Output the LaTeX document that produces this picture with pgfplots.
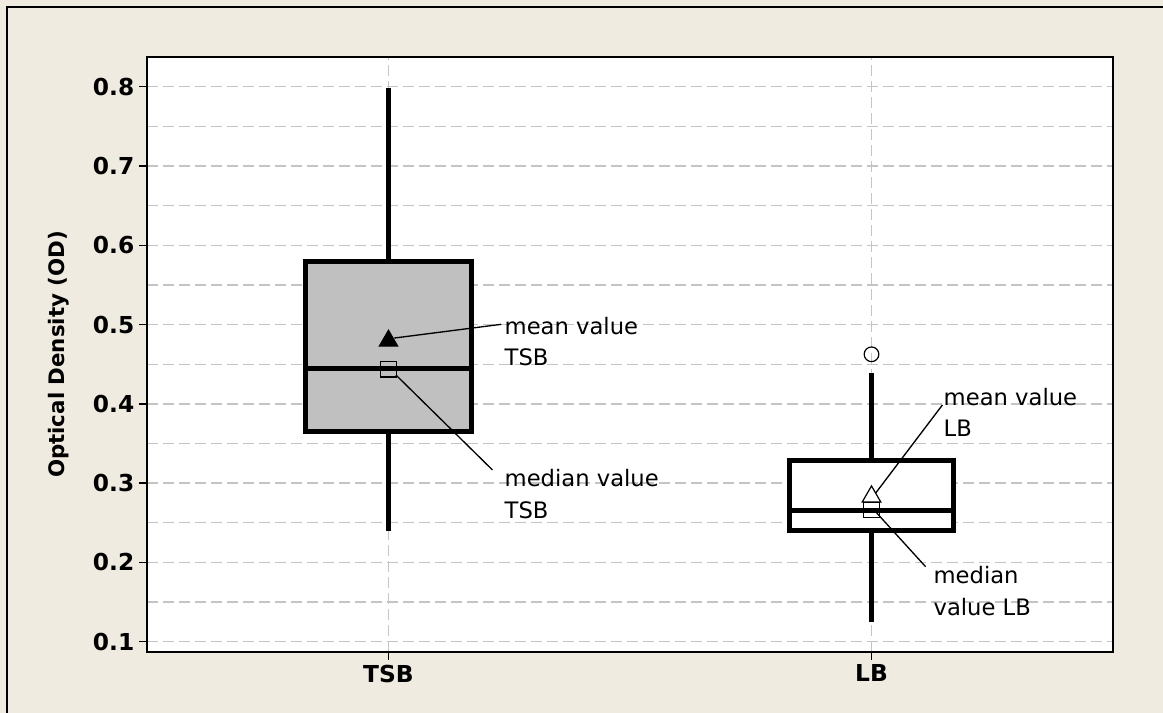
\documentclass[border=0pt]{standalone}
\usepackage{fontspec}
\setmainfont{DejaVu Sans}
\usepackage{pgfplots}
\pgfplotsset{compat=1.18}
\usepgfplotslibrary{statistics}
\definecolor{bgbeige}{RGB}{240,235,225}
\definecolor{gridgray}{RGB}{196,196,196}
\definecolor{boxgray}{RGB}{192,192,192}
\begin{document}
\begin{tikzpicture}
\fill[bgbeige] (-110.25pt,-45.75pt) rectangle (762pt,489pt);
\draw[line width=1.3pt] (-105pt,-46pt) -- (-105pt,483.75pt) -- (763pt,483.75pt);
\begin{axis}[
  scale only axis,
  width=724.5pt, height=446.25pt,
  xmin=0.5, xmax=2.5,
  ymin=0.087, ymax=0.8375,
  axis background/.style={fill=white},
  axis line style={black, line width=1.1pt},
  xtick={1,2}, xticklabels={TSB,LB},
  ytick={0.1,0.2,0.3,0.4,0.5,0.6,0.7,0.8},
  minor y tick num=1,
  minor tick length=0pt,
  major tick length=6pt,
  tick align=outside,
  tick pos=left,
  tick style={black, line width=1.1pt},
  grid=both,
  major grid style={gridgray, line width=1pt, dash pattern=on 8.5pt off 3.5pt},
  minor grid style={gridgray, line width=1pt, dash pattern=on 8.5pt off 3.5pt},
  /pgf/number format/assume math mode=true,
  yticklabel style={/pgf/number format/.cd, fixed, fixed zerofill, precision=1},
  ticklabel style={font=\fontsize{17.5}{20}\selectfont\bfseries},
  ylabel={Optical Density (OD)},
  every axis y label/.style={at={(axis description cs:0,0.5)}, xshift=-66pt, rotate=90, anchor=center, font=\fontsize{16}{18}\selectfont\bfseries},
  boxplot/draw direction=y,
  clip=false,
]
% TSB box
\addplot[draw=black, line width=3.7pt, fill=boxgray, mark=none,
  boxplot prepared={lower whisker=0.240, lower quartile=0.365, median=0.445,
    upper quartile=0.579, upper whisker=0.798, draw position=1,
    box extend=0.342, whisker extend=0}] coordinates {};
% LB box with outlier
\addplot[draw=black, line width=3.7pt, fill=white, mark=o,
  mark options={line width=0.9pt, solid, mark size=5.5pt},
  boxplot prepared={lower whisker=0.125, lower quartile=0.240, median=0.266,
    upper quartile=0.328, upper whisker=0.439, draw position=2,
    box extend=0.339, whisker extend=0}]
  table[row sep=\\, y index=0] {data\\ 0.4625\\};
% means
\addplot[only marks, mark=triangle*, mark size=8pt, mark options={fill=black, draw=black, line width=0.8pt}] coordinates {(1,0.4795)};
\addplot[only marks, mark=triangle*, mark size=8pt, mark options={fill=white, draw=black, line width=0.9pt}] coordinates {(2,0.283)};
% medians
\addplot[only marks, mark=square, mark size=5.8pt, mark options={draw=black, line width=0.9pt}] coordinates {(1,0.4437) (2,0.266)};
% annotations
\draw[black, line width=1pt] (axis cs:1.012,0.483) -- (axis cs:1.2334,0.5003);
\draw[black, line width=1pt] (axis cs:1.0154,0.4364) -- (axis cs:1.2153,0.3166);
\draw[black, line width=1pt] (axis cs:2.0083,0.2872) -- (axis cs:2.1468,0.3986);
\draw[black, line width=1pt] (axis cs:2.0083,0.264) -- (axis cs:2.112,0.1946);
\node[anchor=west, align=left, inner sep=0pt, font=\fontsize{17}{23.5}\selectfont] at (axis cs:1.240,0.4786) {mean value\\TSB};
\node[anchor=west, align=left, inner sep=0pt, font=\fontsize{17}{23.5}\selectfont] at (axis cs:1.240,0.2863) {median value\\TSB};
\node[anchor=west, align=left, inner sep=0pt, font=\fontsize{17}{23.5}\selectfont] at (axis cs:2.149,0.389) {mean value\\LB};
\node[anchor=west, align=left, inner sep=0pt, font=\fontsize{17}{23.5}\selectfont] at (axis cs:2.128,0.164) {median\\value LB};
\end{axis}
\pgfresetboundingbox
\useasboundingbox (-110.25pt,-45.75pt) rectangle (762pt,489pt);
\end{tikzpicture}
\end{document}
